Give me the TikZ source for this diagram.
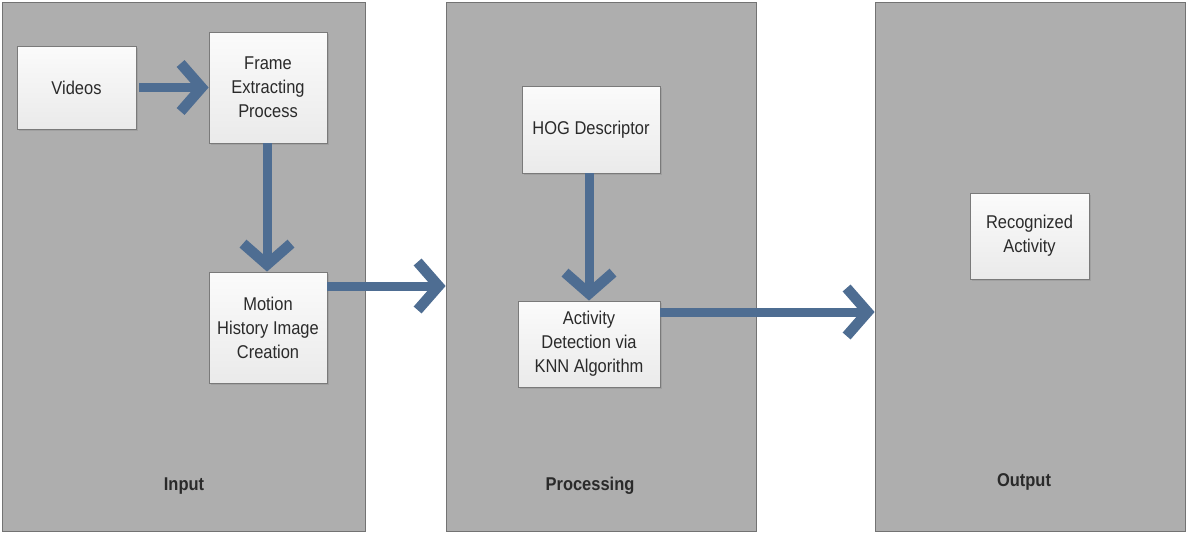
\documentclass[tikz,border=0pt]{standalone}
\usepackage{fontspec}
\setmainfont{Liberation Sans}[FakeStretch=0.89]
\usetikzlibrary{arrows.meta,shadows,calc}
\definecolor{panelfill}{HTML}{AEAEAE}
\definecolor{panelline}{HTML}{737373}
\definecolor{boxline}{HTML}{7A7A7A}
\definecolor{boxtop}{HTML}{FBFBFB}
\definecolor{boxbot}{HTML}{EAEAEA}
\definecolor{flow}{HTML}{4E6D92}
\definecolor{ink}{HTML}{2A2A2A}
\tikzset{
  panel/.style={draw=panelline, fill=panelfill, line width=0.8pt,
    minimum width=#1, minimum height=529pt, inner sep=0pt,
    drop shadow={shadow xshift=1.2pt, shadow yshift=-1.2pt, opacity=0.35}},
  paneltitle/.style={font=\fontsize{18.5}{22}\selectfont\bfseries, text=ink},
  stepbox/.style={draw=boxline, line width=0.8pt, top color=boxtop, bottom color=boxbot,
    align=center, inner sep=2pt, text=ink, font=\fontsize{18.5}{24}\selectfont,
    drop shadow={shadow xshift=1.5pt, shadow yshift=-1.5pt, opacity=0.3}},
  flowarrow/.style={draw=flow, line width=9pt,
    -{Straight Barb[length=21pt, width=48pt, line width=10.5pt]}}
}
\begin{document}
\begin{tikzpicture}[x=1pt, y=-1pt]
  \useasboundingbox (0,0) rectangle (1186,533);

  % three stage panels
  \node[panel=363pt] (inp)  at (183.5,266.5) {};
  \node[panel=310pt] (proc) at (601,266.5) {};
  \node[panel=310pt] (outp) at (1030,266.5) {};

  \node[paneltitle] (inpt)  at (184,486) {Input};
  \node[paneltitle] (proct) at (590,486) {Processing};
  \node[paneltitle] (outpt) at (1024,482) {Output};

  % process steps
  \node[stepbox, minimum width=119pt, minimum height=83pt] (videos) at (76.5,87.5) {Videos};
  \node[stepbox, minimum width=118pt, minimum height=111pt] (frame) at (268,87.5) {Frame\\Extracting\\Process};
  \node[stepbox, minimum width=118pt, minimum height=111pt] (motion) at (268,327.5) {Motion\\History Image\\Creation};
  \node[stepbox, minimum width=138pt, minimum height=87pt] (hog) at (591,129.5) {HOG Descriptor};
  \node[stepbox, minimum width=142pt, minimum height=86pt] (act) at (589,344) {Activity\\Detection via\\KNN Algorithm};
  \node[stepbox, minimum width=119pt, minimum height=86pt] (rec) at (1029.5,236) {Recognized\\Activity};

  % connectors
  \draw[flowarrow, shorten <=3pt] (videos.east) -- (frame.west);
  \draw[flowarrow] ([xshift=-1pt]frame.south) -- ([xshift=-1pt]motion.north);
  \draw[flowarrow] ([yshift=41.5pt]motion.east) -- ([yshift=41.5pt]motion.east -| proc.west);
  \draw[flowarrow] ([xshift=-2pt]hog.south) -- ([xshift=-2pt]hog.south |- act.north);
  \draw[flowarrow] ([yshift=32pt]act.east) -- ([yshift=32pt]act.east -| outp.west);
\end{tikzpicture}
\end{document}
